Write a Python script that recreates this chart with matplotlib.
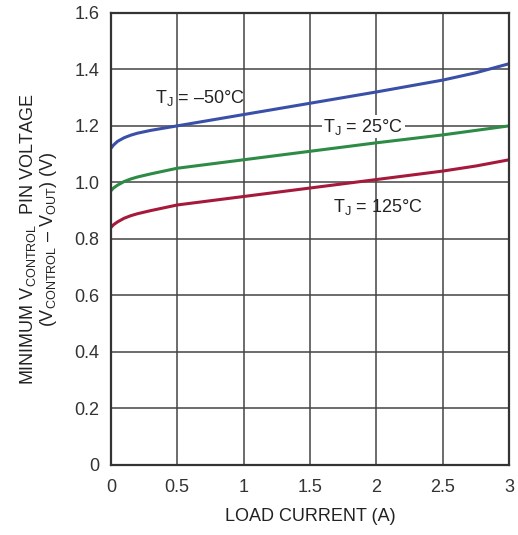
import matplotlib.pyplot as plt
import numpy as np

plt.rcParams['font.family'] = ['Liberation Sans Narrow', 'Liberation Sans', 'DejaVu Sans']
plt.rcParams['mathtext.fontset'] = 'custom'
plt.rcParams['mathtext.rm'] = 'Liberation Sans'

current = [0, 0.02, 0.05, 0.1, 0.15, 0.2, 0.3, 0.5, 1.0, 1.5, 2.0, 2.5, 2.75, 3.0]
v_m50 = [1.12, 1.132, 1.145, 1.158, 1.167, 1.174, 1.184, 1.20, 1.24, 1.28, 1.32, 1.362, 1.388, 1.42]
v_25 = [0.97, 0.98, 0.99, 1.003, 1.012, 1.019, 1.03, 1.05, 1.08, 1.11, 1.14, 1.168, 1.184, 1.20]
v_125 = [0.84, 0.85, 0.86, 0.873, 0.882, 0.889, 0.90, 0.92, 0.95, 0.98, 1.01, 1.04, 1.058, 1.08]

xticks = [0, 0.5, 1, 1.5, 2, 2.5, 3]
xticklabels = ['0', '0.5', '1', '1.5', '2', '2.5', '3']
yticks = [0, 0.2, 0.4, 0.6, 0.8, 1.0, 1.2, 1.4, 1.6]
yticklabels = ['0', '0.2', '0.4', '0.6', '0.8', '1.0', '1.2', '1.4', '1.6']

fig = plt.figure(figsize=(5.18, 5.35), dpi=100)
ax = fig.add_axes([0.214, 0.131, 0.769, 0.845])

ax.plot(current, v_m50, color='#3a4fa8', lw=2.2, solid_joinstyle='round')
ax.plot(current, v_25, color='#2e8b46', lw=2.2, solid_joinstyle='round')
ax.plot(current, v_125, color='#a6193a', lw=2.2, solid_joinstyle='round')

ax.set_xlim(0, 3)
ax.set_ylim(0, 1.6)
ax.set_xticks(xticks)
ax.set_xticklabels(xticklabels)
ax.set_yticks(yticks)
ax.set_yticklabels(yticklabels)
ax.tick_params(length=0, labelsize=13, colors='#333333')
ax.tick_params(axis='x', pad=10)
ax.tick_params(axis='y', pad=8)
ax.grid(True, color='#444444', lw=1.1)
for s in ax.spines.values():
    s.set_color('#333333')
    s.set_linewidth(1.6)

ax.text(0.33, 1.30, r'T$_\mathregular{J}$ = –50°C', fontsize=13, va='center', color='#222222')
ax.text(1.6, 1.197, r'T$_\mathregular{J}$ = 25°C', fontsize=13, va='center', color='#222222',
        bbox=dict(facecolor='white', edgecolor='none', pad=1))
ax.text(1.67, 0.913, r'T$_\mathregular{J}$ = 125°C', fontsize=13, va='center', color='#222222')

ax.set_xlabel('LOAD CURRENT (A)', fontsize=13, color='#222222', labelpad=9)
ax.set_ylabel('MINIMUM V$_\\mathregular{CONTROL}$  PIN VOLTAGE\n(V$_\\mathregular{CONTROL}$ – V$_\\mathregular{OUT}$) (V)',
              fontsize=13, color='#222222', labelpad=11, linespacing=1.05)

fig.savefig('out.png', dpi=100)
